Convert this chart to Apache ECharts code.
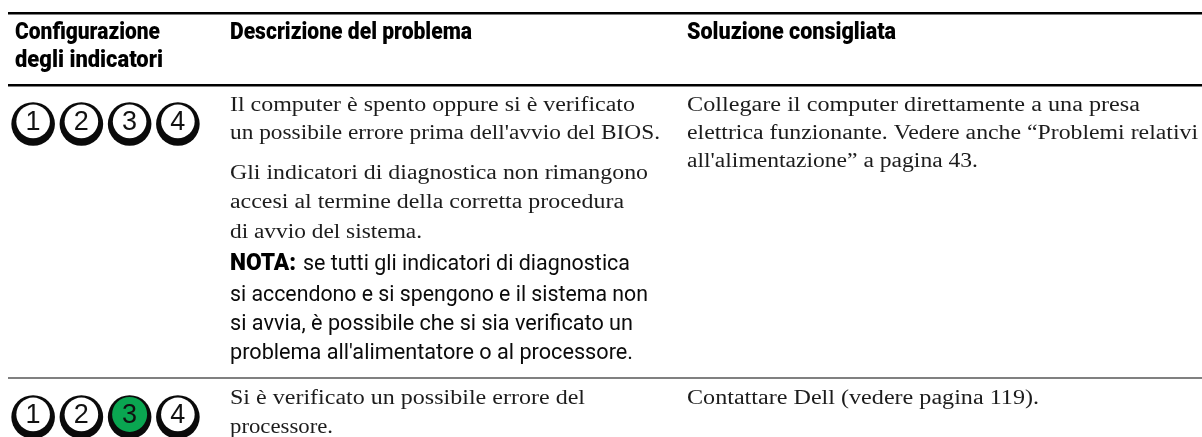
<!DOCTYPE html>
<html><head><meta charset="utf-8">
<style>html,body{margin:0;padding:0;background:#fff}#c{width:1202px;height:437px}</style>
<script src="https://cdn.jsdelivr.net/npm/echarts@6/dist/echarts.min.js"></script>
</head><body><div id="c"></div>
<script>
const ledLabels = ['1','2','3','4'];
const rowNames = ['riga1','riga2'];
const ledRow1 = [0,0,0,0];
const ledRow2 = [0,0,1,0];
const headerCol1 = ['Configurazione','degli indicatori'];
const headerCol2 = ['Descrizione del problema'];
const headerCol3 = ['Soluzione consigliata'];
const descRow1a = ['Il computer è spento oppure si è verificato',"un possibile errore prima dell'avvio del BIOS."];
const descRow1b = ['Gli indicatori di diagnostica non rimangono','accesi al termine della corretta procedura','di avvio del sistema.'];
const notaLabel = 'NOTA:';
const notaLines = ['se tutti gli indicatori di diagnostica','si accendono e si spengono e il sistema non','si avvia, è possibile che si sia verificato un',"problema all'alimentatore o al processore."];
const solRow1 = ['Collegare il computer direttamente a una presa','elettrica funzionante. Vedere anche “Problemi relativi',"all'alimentazione” a pagina 43."];
const descRow2 = ['Si è verificato un possibile errore del','processore.'];
const solRow2 = ['Contattare Dell (vedere pagina 119).'];

const SERIF={fam:'"Liberation Serif"',size:20.5,weight:'normal',color:'#1c1c1c'};
const HEAD={fam:'Roboto',size:24,weight:'900',color:'#000'};
const NOTE={fam:'Roboto',size:22,weight:'400',color:'#0a0a0a'};
const NOTAB={fam:'Roboto',size:24,weight:'900',color:'#000'};

const ctx=document.createElement('canvas').getContext('2d');
function txt(t,st,x0,x1,base){
  ctx.font=`${st.weight} ${st.size}px ${st.fam}`;
  const w=ctx.measureText(t).width;
  return {type:'text',x:x0,y:base,scaleX:(x1-x0)/w,silent:true,
    style:{text:t,x:0,y:-st.size*0.33,fontFamily:st.fam,fontSize:st.size,fontWeight:st.weight,fill:st.color,align:'left',verticalAlign:'middle'}};
}
function rule(y,h,c){return {type:'rect',silent:true,shape:{x:8,y:y,width:1194,height:h},style:{fill:c}};}
const g=[
 rule(12,2.4,'#000'),rule(84,2.4,'#000'),rule(377,2,'#808080'),
 txt(headerCol1[0],HEAD,15,160,41),txt(headerCol1[1],HEAD,15,163,69),
 txt(headerCol2[0],HEAD,230,472,41),txt(headerCol3[0],HEAD,687,896,41),
 txt(descRow1a[0],SERIF,230,635,112),txt(descRow1a[1],SERIF,230,660,140),
 txt(descRow1b[0],SERIF,230,648,180),txt(descRow1b[1],SERIF,230,624,209),txt(descRow1b[2],SERIF,230,422,239),
 txt(notaLabel,NOTAB,230,296,272),
 txt(notaLines[0],NOTE,303,630,272),txt(notaLines[1],NOTE,230,648,303),txt(notaLines[2],NOTE,230,633,332),txt(notaLines[3],NOTE,230,633,361),
 txt(solRow1[0],SERIF,687,1140,112),txt(solRow1[1],SERIF,687,1198,140),txt(solRow1[2],SERIF,687,978,168),
 txt(descRow2[0],SERIF,230,585,405),txt(descRow2[1],SERIF,230,333,434),
 txt(solRow2[0],SERIF,687,1039,405)
];
const ledData=[];
[ledRow1,ledRow2].forEach((r,ri)=>r.forEach((s,i)=>ledData.push([i,ri,s])));
const chart=echarts.init(document.getElementById('c'),null,{renderer:'canvas'});
chart.setOption({
 animation:false,backgroundColor:'#fff',
 grid:{left:9,top:124,width:193,height:293},
 xAxis:{type:'category',data:ledLabels,show:false},
 yAxis:{type:'category',data:rowNames,inverse:true,boundaryGap:false,show:false},
 graphic:{elements:g},
 series:[{type:'custom',clip:false,silent:true,data:ledData,encode:{x:0,y:1},
  renderItem(p,api){
   const c=api.coord([api.value(0),api.value(1)]);
   const on=api.value(2)===1;
   return {type:'group',x:c[0],y:c[1],children:[
    {type:'circle',shape:{cx:0,cy:0,r:21.8},style:{fill:'#0a0a0a'}},
    {type:'circle',shape:{cx:0,cy:-2.6,r:on?17.5:16.8},style:{fill:on?'#0aa651':'#fff'}},
    {type:'text',style:{text:ledLabels[api.value(0)],x:0,y:-1,align:'center',verticalAlign:'middle',fontFamily:'"Liberation Sans"',fontSize:27,fill:'#111'}}
   ]};
  }}]
});
</script></body></html>
